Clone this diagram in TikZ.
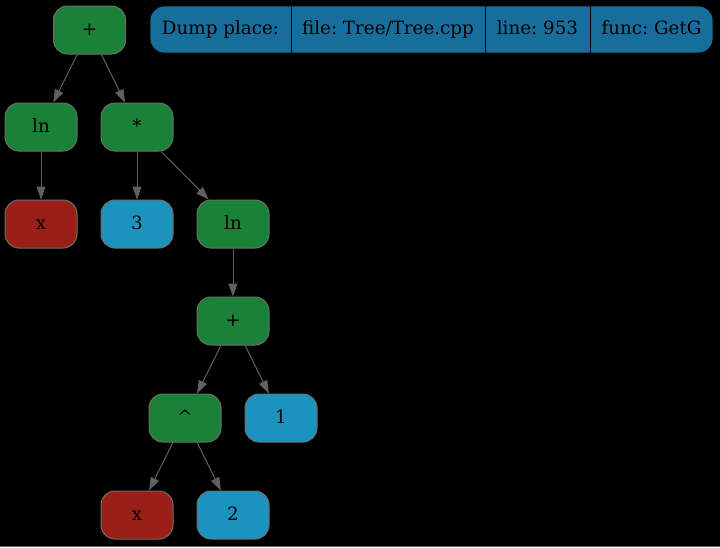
\documentclass[tikz,border=0pt]{standalone}
\usepackage{fontspec}
\setmainfont{DejaVu Serif}
\usetikzlibrary{arrows.meta}
\frenchspacing
\definecolor{opgreen}{HTML}{1A8236}
\definecolor{varred}{HTML}{9A1F17}
\definecolor{numblue}{HTML}{1A94BF}
\definecolor{recblue}{HTML}{176E9D}
\definecolor{bordergrey}{HTML}{6E6E6E}
\definecolor{edgegrey}{HTML}{606060}
\tikzset{
  x=1pt, y=-1pt,
  treenode/.style={draw=bordergrey, line width=1pt, rounded corners=14pt,
    minimum width=72pt, minimum height=48pt, inner sep=0pt,
    text height=10.5pt, text depth=0pt,
    font=\fontsize{18.3}{20}\selectfont, text=black},
  opnode/.style={treenode, fill=opgreen},
  varnode/.style={treenode, fill=varred},
  numnode/.style={treenode, fill=numblue},
  edge/.style={draw=edgegrey, line width=1pt,
    -{Triangle[length=13pt,width=9pt]}},
  rectext/.style={font=\fontsize{18.3}{20}\selectfont, text=black, inner sep=0pt,
    text height=10.5pt, text depth=0pt}
}
\begin{document}
\begin{tikzpicture}
\useasboundingbox (0,0) rectangle (720,547);
\fill[black] (0,0) rectangle (720,547);
\draw[edgegrey, line width=1pt] (0,546.5) -- (720,546.5);

% record
\filldraw[fill=recblue, draw=black, line width=0.8pt, rounded corners=14pt] (150,6) rectangle (713,53);
\draw[black, line width=1pt] (291,6) -- (291,53);
\draw[black, line width=1pt] (485,6) -- (485,53);
\draw[black, line width=1pt] (590,6) -- (590,53);
\node[rectext] (r1) at (220.5,29.5) {Dump place:};
\node[rectext] (r2) at (388,29.5) {file: Tree/Tree.cpp};
\node[rectext] (r3) at (537.5,29.5) {line: 953};
\node[rectext] (r4) at (651.5,29.5) {func: GetG};

% tree nodes
\node[opnode] (plus1) at (89.5,30) {+};
\node[opnode] (ln1) at (41,127) {ln};
\node[opnode] (mul) at (137,127) {*};
\node[varnode] (x1) at (41,224) {x};
\node[numnode] (three) at (137,224) {3};
\node[opnode] (ln2) at (233,224) {ln};
\node[opnode] (plus2) at (233,321) {+};
\node[opnode] (pow) at (185,418) {\^{}};
\node[numnode] (one) at (281,418) {1};
\node[varnode] (x2) at (137,515) {x};
\node[numnode] (two) at (233,515) {2};

% edges
\draw[edge] (plus1) -- (ln1);
\draw[edge] (plus1) -- (mul);
\draw[edge] (ln1) -- (x1);
\draw[edge] (mul) -- (three);
\draw[edge] (mul) -- (ln2);
\draw[edge] (ln2) -- (plus2);
\draw[edge] (plus2) -- (pow);
\draw[edge] (plus2) -- (one);
\draw[edge] (pow) -- (x2);
\draw[edge] (pow) -- (two);
\end{tikzpicture}
\end{document}
